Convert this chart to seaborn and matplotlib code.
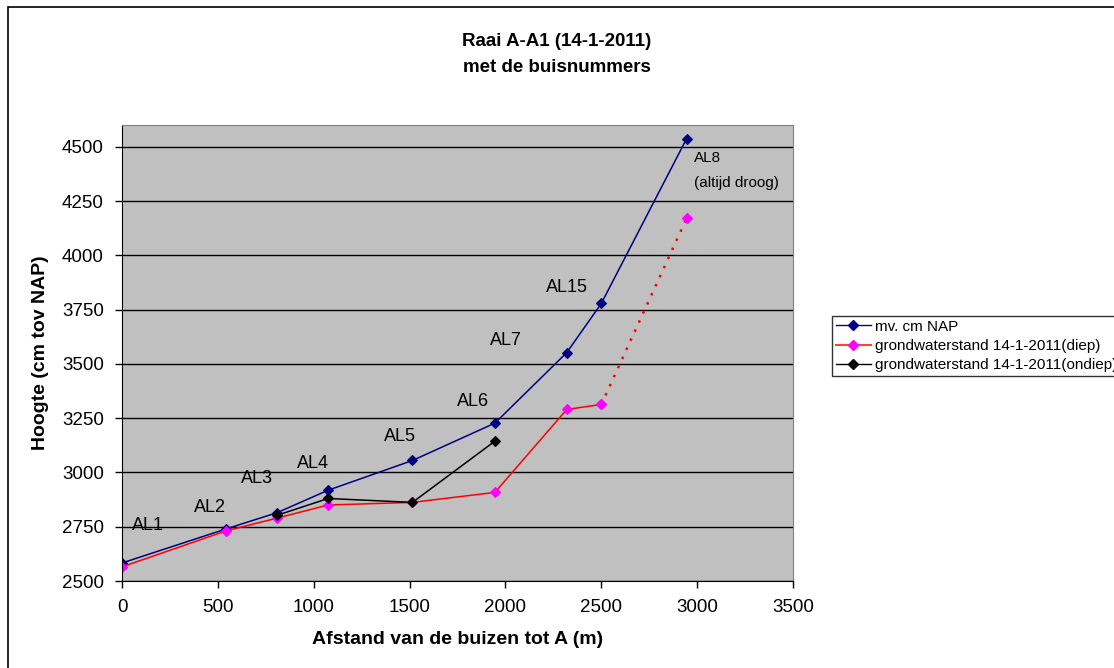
import numpy as np
import pandas as pd
import matplotlib
matplotlib.use("Agg")
import matplotlib.pyplot as plt
from matplotlib.lines import Line2D
from matplotlib.patches import Rectangle
import seaborn as sns

# afstand van de buizen tot A (m)
afstand = [0, 540, 810, 1075, 1515, 1945, 2320, 2500, 2945]
maaiveld = [2583, 2739, 2815, 2918, 3055, 3227, 3552, 3778, 4537]
gw_diep = [2565, 2730, 2790, 2850, 2862, 2908, 3290, 3313, 4170]
afstand_ondiep = [810, 1075, 1515, 1945]
gw_ondiep = [2803, 2880, 2862, 3144]

buis_labels = ["AL1", "AL2", "AL3", "AL4", "AL5", "AL6", "AL7", "AL15"]
label_x = [135, 458, 703, 995, 1448, 1833, 2005, 2323]
label_y = [2757, 2840, 2974, 3042, 3167, 3328, 3608, 3852]

series_names = ["mv. cm NAP", "grondwaterstand 14-1-2011(diep)",
                "grondwaterstand 14-1-2011(ondiep)"]

plt.rcParams["font.family"] = ["Liberation Sans", "DejaVu Sans"]

fig = plt.figure(figsize=(11.14, 6.68), dpi=100)
ax = fig.add_axes([122 / 1114, 87 / 668, 671 / 1114, 456 / 668])
ax.set_facecolor("#C0C0C0")

mv = pd.DataFrame({"x": afstand, "y": maaiveld})
diep = pd.DataFrame({"x": afstand, "y": gw_diep})
ondiep = pd.DataFrame({"x": afstand_ondiep, "y": gw_ondiep})

mk = dict(marker="D", markersize=5.5, markeredgewidth=0.8)
sns.lineplot(data=mv, x="x", y="y", ax=ax, color="#000080", lw=1.1,
             markerfacecolor="#000080", markeredgecolor="#000080", **mk)
# laatste stuk (naar AL8) gestippeld
sns.lineplot(data=diep.iloc[:8], x="x", y="y", ax=ax, color="#FF0000", lw=1.1,
             markerfacecolor="#FF00FF", markeredgecolor="#FF00FF", **mk)
sns.lineplot(data=diep.iloc[7:], x="x", y="y", ax=ax, color="#FF0000", lw=1.8,
             linestyle=(0, (1, 3)),
             markerfacecolor="#FF00FF", markeredgecolor="#FF00FF", **mk)
sns.lineplot(data=ondiep, x="x", y="y", ax=ax, color="black", lw=1.1,
             markerfacecolor="black", markeredgecolor="black", **mk)

for t, lx, ly in zip(buis_labels, label_x, label_y):
    ax.text(lx, ly, t, fontsize=13, ha="center", va="center")
ax.text(2985, 4450, "AL8", fontsize=11, ha="left", va="center")
ax.text(2985, 4333, "(altijd droog)", fontsize=11, ha="left", va="center")

ax.set_xlim(0, 3500)
ax.set_ylim(2500, 4600)
ax.set_xticks(np.arange(0, 3501, 500))
ax.set_yticks(np.arange(2500, 4501, 250))
ax.yaxis.grid(True, color="black", lw=1)
ax.set_axisbelow(True)
ax.tick_params(axis="both", labelsize=13.5, length=5, direction="out", width=1)
ax.tick_params(axis="x", pad=8)
ax.tick_params(axis="y", pad=8)
for s in ["top", "right"]:
    ax.spines[s].set_color("#808080")
for s in ["left", "bottom"]:
    ax.spines[s].set_color("black")

ax.set_xlabel("Afstand van de buizen tot A (m)", fontsize=14, fontweight="bold")
ax.set_ylabel("Hoogte (cm tov NAP)", fontsize=14, fontweight="bold")
ax.xaxis.set_label_coords(0.5, (581 - 640) / 456)
ax.xaxis.label.set_va("center")
ax.yaxis.set_label_coords((40 - 122) / 671, 0.5)
ax.yaxis.label.set_va("center")

fig.text(0.5, 1 - 42 / 668, "Raai A-A1 (14-1-2011)", ha="center", va="center",
         fontsize=13.5, fontweight="bold")
fig.text(0.5, 1 - 67 / 668, "met de buisnummers", ha="center", va="center",
         fontsize=13.5, fontweight="bold")

handles = [
    Line2D([], [], color="#000080", lw=1, marker="D", markersize=5,
           markerfacecolor="#000080", markeredgecolor="#000080"),
    Line2D([], [], color="#FF4040", lw=1.5, marker="D", markersize=5,
           markerfacecolor="#FF00FF", markeredgecolor="#FF00FF"),
    Line2D([], [], color="black", lw=1, marker="D", markersize=5,
           markerfacecolor="black", markeredgecolor="black"),
]
# legenda valt rechts buiten de figuur, net als in het origineel
leg = fig.legend(handles, series_names, loc="upper left",
                 bbox_to_anchor=(832 / 1114, 1 - 316 / 668),
                 bbox_transform=fig.transFigure, fontsize=11, frameon=True,
                 fancybox=False, handlelength=2.3, handletextpad=0.25,
                 borderpad=0.25, labelspacing=0.33, borderaxespad=0)
leg.get_frame().set_edgecolor("black")
leg.get_frame().set_linewidth(1)

fig.patches.append(Rectangle((8 / 1114, -0.1), 1.2, 1.1 - 7 / 668, fill=False,
                             edgecolor="black", lw=1.2, transform=fig.transFigure))

fig.savefig("out.png", dpi=100)
